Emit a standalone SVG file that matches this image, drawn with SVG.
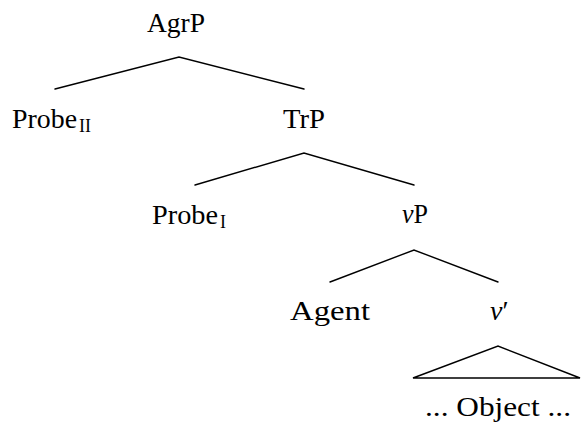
<svg xmlns="http://www.w3.org/2000/svg" width="581" height="427" viewBox="0 0 581 427">
  <style>
    text { font-family: 'Liberation Serif', 'Times New Roman', 'DejaVu Serif', serif; font-size: 28px; fill: #000; }
    .sub { font-size: 18px; }
    .it { font-style: italic; }
    .edge { stroke: #000; stroke-width: 1.4; fill: none; stroke-linecap: round; stroke-linejoin: miter; }
  </style>
  <rect width="581" height="427" fill="#fff"/>

  <g id="connectors">
    <polyline class="edge" points="55,89 179,57 304,89"/>
    <polyline class="edge" points="195,185 304,153 414,185"/>
    <polyline class="edge" points="330,282 414,250 498,282"/>
    <polygon class="edge" points="413,378 498,346 580,378"/>
  </g>

  <g id="agrp"><text x="147" y="32" textLength="58" lengthAdjust="spacingAndGlyphs">AgrP</text></g>
  <g id="probe2">
    <text x="12" y="128" textLength="65" lengthAdjust="spacingAndGlyphs">Probe</text>
    <text class="sub" x="79" y="132">II</text>
  </g>
  <g id="trp"><text x="283" y="128" textLength="42" lengthAdjust="spacingAndGlyphs">TrP</text></g>
  <g id="probe1">
    <text x="152" y="224" textLength="66" lengthAdjust="spacingAndGlyphs">Probe</text>
    <text class="sub" x="220" y="228">I</text>
  </g>
  <g id="vp"><text x="402" y="223" textLength="26" lengthAdjust="spacingAndGlyphs"><tspan class="it">v</tspan>P</text></g>
  <g id="agent"><text x="290" y="320" font-size="29" textLength="80" lengthAdjust="spacingAndGlyphs">Agent</text></g>
  <g id="vbar"><text x="490" y="320"><tspan class="it">v</tspan>′</text></g>
  <g id="object"><text x="425" y="416" textLength="146" lengthAdjust="spacingAndGlyphs">... Object ...</text></g>
</svg>
